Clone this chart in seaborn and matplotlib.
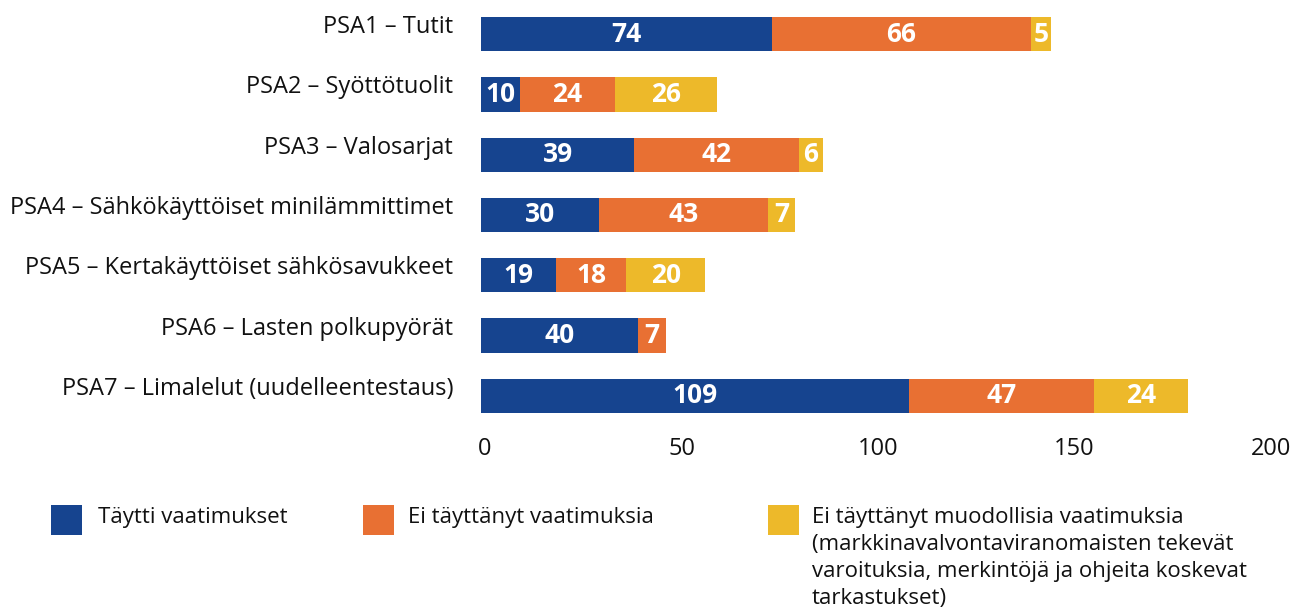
import numpy as np
import pandas as pd
import matplotlib
matplotlib.use('Agg')
import matplotlib.pyplot as plt
import matplotlib.transforms as mtransforms
from matplotlib.patches import Rectangle
import seaborn as sns

# data
categories = ['PSA1 – Tutit', 'PSA2 – Syöttötuolit', 'PSA3 – Valosarjat',
              'PSA4 – Sähkökäyttöiset minilämmittimet',
              'PSA5 – Kertakäyttöiset sähkösavukkeet',
              'PSA6 – Lasten polkupyörät',
              'PSA7 – Limalelut (uudelleentestaus)']
met = [74, 10, 39, 30, 19, 40, 109]
not_met = [66, 24, 42, 43, 18, 7, 47]
formal = [5, 26, 6, 7, 20, 0, 24]
series_names = ['Täytti vaatimukset', 'Ei täyttänyt vaatimuksia',
                'Ei täyttänyt muodollisia vaatimuksia\n(markkinavalvontaviranomaisten tekevät\nvaroituksia, merkintöjä ja ohjeita koskevat\ntarkastukset)']
x_ticks = [0, 50, 100, 150, 200]

colors = ['#16448f', '#e87033', '#edb92a']

sns.set_theme(style='white')
plt.rcParams['font.family'] = ['Open Sans', 'DejaVu Sans']

df = pd.DataFrame({'cat': categories, 'met': met, 'not_met': not_met, 'formal': formal})
df['c1'] = df['met']
df['c2'] = df['met'] + df['not_met']
df['c3'] = df['c2'] + df['formal']

W, H = 1304, 611
fig = plt.figure(figsize=(W / 100, H / 100), dpi=100)
ax = fig.add_axes([481 / W, 1 - 426 / H, 786 / W, 422 / H])

# stacked bars: draw cumulative totals from back to front
for col, c in zip(['c3', 'c2', 'c1'], colors[::-1]):
    sns.barplot(data=df, x=col, y='cat', orient='h', color=c, width=0.57,
                saturation=1, ax=ax, linewidth=0)

# segment labels
for i, row in df.iterrows():
    left = 0
    for v in [row['met'], row['not_met'], row['formal']]:
        if v > 0:
            ax.text(left + v / 2, i, str(v), ha='center', va='center',
                    color='white', fontsize=19, fontweight='bold')
        left += v

ax.set_xlim(0, 200)
ax.set_ylim(6.5, -0.5)
ax.set_xticks(x_ticks)
ax.set_xlabel('')
ax.set_ylabel('')
ax.tick_params(axis='y', length=0, pad=20, labelsize=17, colors='#111111')
ax.tick_params(axis='x', length=0, pad=8, labelsize=17, colors='#111111')
sns.despine(ax=ax, left=True, bottom=True)

# category labels sit a little above the bar centre, x labels a bit right
up = mtransforms.ScaledTranslation(0, 0.10, fig.dpi_scale_trans)
for t in ax.get_yticklabels():
    t.set_transform(t.get_transform() + up)
right = mtransforms.ScaledTranslation(0.04, 0, fig.dpi_scale_trans)
for t in ax.get_xticklabels():
    t.set_transform(t.get_transform() + right)

# legend drawn by hand: colour square + text
patch_x = [51, 363, 768]
text_x = [98, 408, 812]
for name, c, px, tx in zip(series_names, colors, patch_x, text_x):
    fig.patches.append(Rectangle((px / W, 1 - 535 / H), 31 / W, 30 / H,
                                 transform=fig.transFigure, facecolor=c,
                                 edgecolor='none'))
    fig.text(tx / W, 1 - 507 / H, name, ha='left', va='top', fontsize=16,
             color='#111111', linespacing=1.38)

fig.savefig('out.png', dpi=100)
